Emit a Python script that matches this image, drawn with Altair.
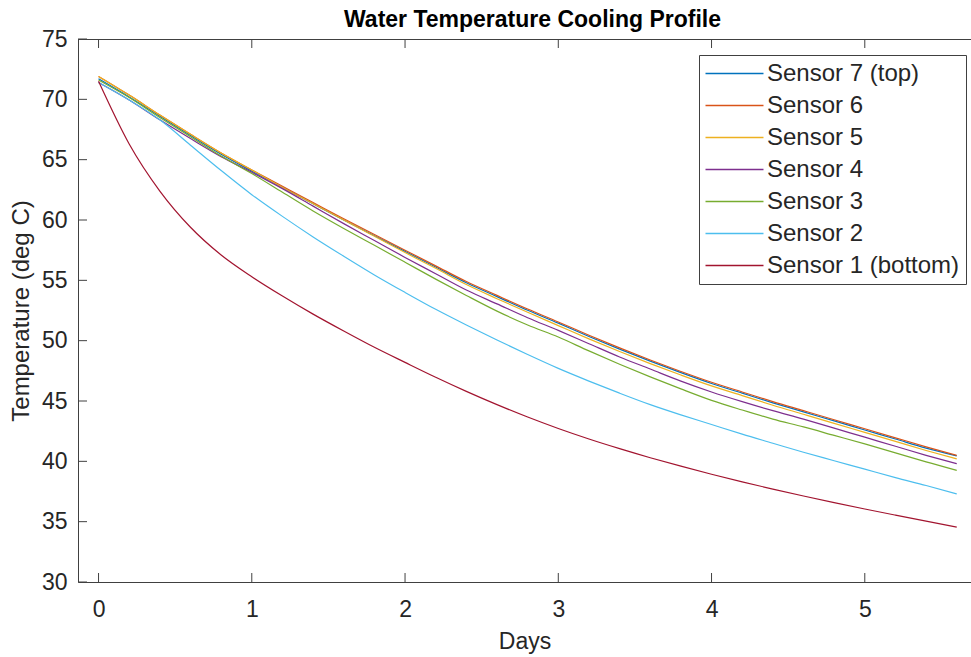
import altair as alt
import pandas as pd

days = [0.0, 0.2, 0.4, 0.6, 0.8, 1.0, 1.2, 1.4, 1.6, 1.8, 2.0, 2.2, 2.4, 2.6, 2.8,
        3.0, 3.2, 3.4, 3.6, 3.8, 4.0, 4.2, 4.4, 4.6, 4.8, 5.0, 5.2, 5.4, 5.6]

sensor7 = [71.7, 70.2, 68.6, 67.0, 65.45, 64.05, 62.7, 61.35, 60.0, 58.7, 57.4, 56.1, 54.8, 53.65, 52.52,
           51.45, 50.35, 49.3, 48.3, 47.35, 46.45, 45.65, 44.85, 44.1, 43.35, 42.6, 41.85, 41.1, 40.45]
sensor6 = [71.9, 70.35, 68.7, 67.1, 65.55, 64.15, 62.8, 61.45, 60.1, 58.8, 57.5, 56.2, 54.9, 53.75, 52.62,
           51.55, 50.45, 49.4, 48.4, 47.45, 46.55, 45.75, 44.95, 44.2, 43.45, 42.7, 41.95, 41.2, 40.5]
sensor5 = [71.9, 70.35, 68.7, 67.1, 65.55, 64.15, 62.7, 61.35, 60.0, 58.65, 57.3, 56.0, 54.65, 53.48, 52.35,
           51.25, 50.15, 49.1, 48.1, 47.15, 46.25, 45.45, 44.65, 43.9, 43.15, 42.4, 41.65, 40.9, 40.2]
sensor4 = [71.4, 69.95, 68.3, 66.75, 65.25, 63.95, 62.6, 61.15, 59.7, 58.3, 56.9, 55.55, 54.2, 53.05, 51.9,
           50.85, 49.75, 48.65, 47.65, 46.65, 45.75, 44.95, 44.2, 43.5, 42.75, 42.0, 41.25, 40.5, 39.8]
sensor3 = [71.6, 70.15, 68.5, 66.9, 65.3, 63.85, 62.3, 60.75, 59.3, 57.9, 56.5, 55.1, 53.75, 52.45, 51.3,
           50.3, 49.15, 48.05, 47.0, 46.0, 45.05, 44.25, 43.5, 42.85, 42.15, 41.45, 40.7, 39.95, 39.25]
sensor2 = [71.4, 69.95, 68.3, 66.2, 64.1, 62.1, 60.3, 58.6, 57.0, 55.45, 54.0, 52.6, 51.3, 50.05, 48.85,
           47.7, 46.65, 45.65, 44.7, 43.85, 43.05, 42.25, 41.5, 40.75, 40.05, 39.35, 38.65, 38.0, 37.3]
sensor1 = [71.5, 66.3, 62.4, 59.4, 57.1, 55.3, 53.7, 52.2, 50.8, 49.45, 48.2, 46.97, 45.8, 44.7, 43.67,
           42.72, 41.85, 41.05, 40.3, 39.6, 38.93, 38.3, 37.7, 37.13, 36.58, 36.05, 35.54, 35.04, 34.55]

sensor_names = ["Sensor 7 (top)", "Sensor 6", "Sensor 5", "Sensor 4", "Sensor 3", "Sensor 2", "Sensor 1 (bottom)"]
series = [sensor7, sensor6, sensor5, sensor4, sensor3, sensor2, sensor1]
colors = ["#0072BD", "#D95319", "#EDB120", "#7E2F8E", "#77AC30", "#4DBEEE", "#A2142F"]

x_ticks = [0, 1, 2, 3, 4, 5]
y_ticks = [30, 35, 40, 45, 50, 55, 60, 65, 70, 75]

rows = []
for i, (name, vals) in enumerate(zip(sensor_names, series)):
    for d, v in zip(days, vals):
        rows.append({"Days": d, "Temp": v, "Sensor": name, "k": i})
df = pd.DataFrame(rows)

W, H = 893, 543
FONT = "Liberation Sans"
AX = "#262626"
xscale = alt.Scale(domain=[-0.134, 5.693], nice=False, zero=False)
yscale = alt.Scale(domain=[30, 75], nice=False, zero=False)

lines = alt.Chart(df).mark_line(strokeWidth=1.2, interpolate="monotone", clip=True).encode(
    x=alt.X("Days:Q", scale=xscale,
            axis=alt.Axis(values=x_ticks, format="d", title="Days", ticks=False, grid=False, labelPadding=16,
                          labelFontSize=23, titleFontSize=23, labelFont=FONT, titleFont=FONT,
                          titleFontWeight="normal", labelColor=AX, titleColor=AX, domainColor="#404040",
                          domainWidth=1, titlePadding=9, labelFlush=False)),
    y=alt.Y("Temp:Q", scale=yscale,
            axis=alt.Axis(values=y_ticks, format="d", title="Temperature (deg C)", ticks=False, grid=False,
                          labelPadding=11, labelFontSize=23, titleFontSize=24, labelFont=FONT, titleFont=FONT,
                          titleFontWeight="normal", labelColor=AX, titleColor=AX, domainColor="#404040",
                          domainWidth=1, titlePadding=8, labelFlush=False)),
    color=alt.Color("Sensor:N", scale=alt.Scale(domain=sensor_names, range=colors),
                    legend=alt.Legend(title=None, orient="none", legendX=621, legendY=16,
                                      symbolType="M-2.5,0H2.5", symbolSize=538, symbolStrokeWidth=1.5,
                                      symbolOffset=17, labelFontSize=24, labelFont=FONT, labelColor=AX,
                                      labelOffset=20, strokeColor="#404040", fillColor="white", padding=6,
                                      rowPadding=7, labelLimit=400)),
    order="k:Q",
)

tick_df = pd.DataFrame({"t": x_ticks})
ytick_df = pd.DataFrame({"t": y_ticks})

xt_bottom = alt.Chart(tick_df).mark_rule(color="#404040", strokeWidth=1).encode(
    x=alt.X("t:Q", scale=xscale), y=alt.value(H - 9), y2=alt.value(H))
xt_top = alt.Chart(tick_df).mark_rule(color="#404040", strokeWidth=1).encode(
    x=alt.X("t:Q", scale=xscale), y=alt.value(0), y2=alt.value(9))
yt_left = alt.Chart(ytick_df).mark_rule(color="#404040", strokeWidth=1).encode(
    y=alt.Y("t:Q", scale=yscale), x=alt.value(0), x2=alt.value(9))
top_line = alt.Chart(tick_df).mark_rule(color="#404040", strokeWidth=1).encode(
    x=alt.value(0), x2=alt.value(W), y=alt.value(0.5))

chart = alt.layer(lines, xt_bottom, xt_top, yt_left, top_line).properties(
    width=W, height=H,
    title=alt.TitleParams("Water Temperature Cooling Profile", fontSize=23, font=FONT,
                          fontWeight="bold", color="black", offset=10, dx=8, dy=14),
    autosize=alt.AutoSizeParams(type="none"),
    padding={"left": 78, "top": 39, "right": 0, "bottom": 75},
).configure_view(stroke=None).configure(background="white")

chart.save("out.html", embed_options={"renderer": "svg", "actions": False})
